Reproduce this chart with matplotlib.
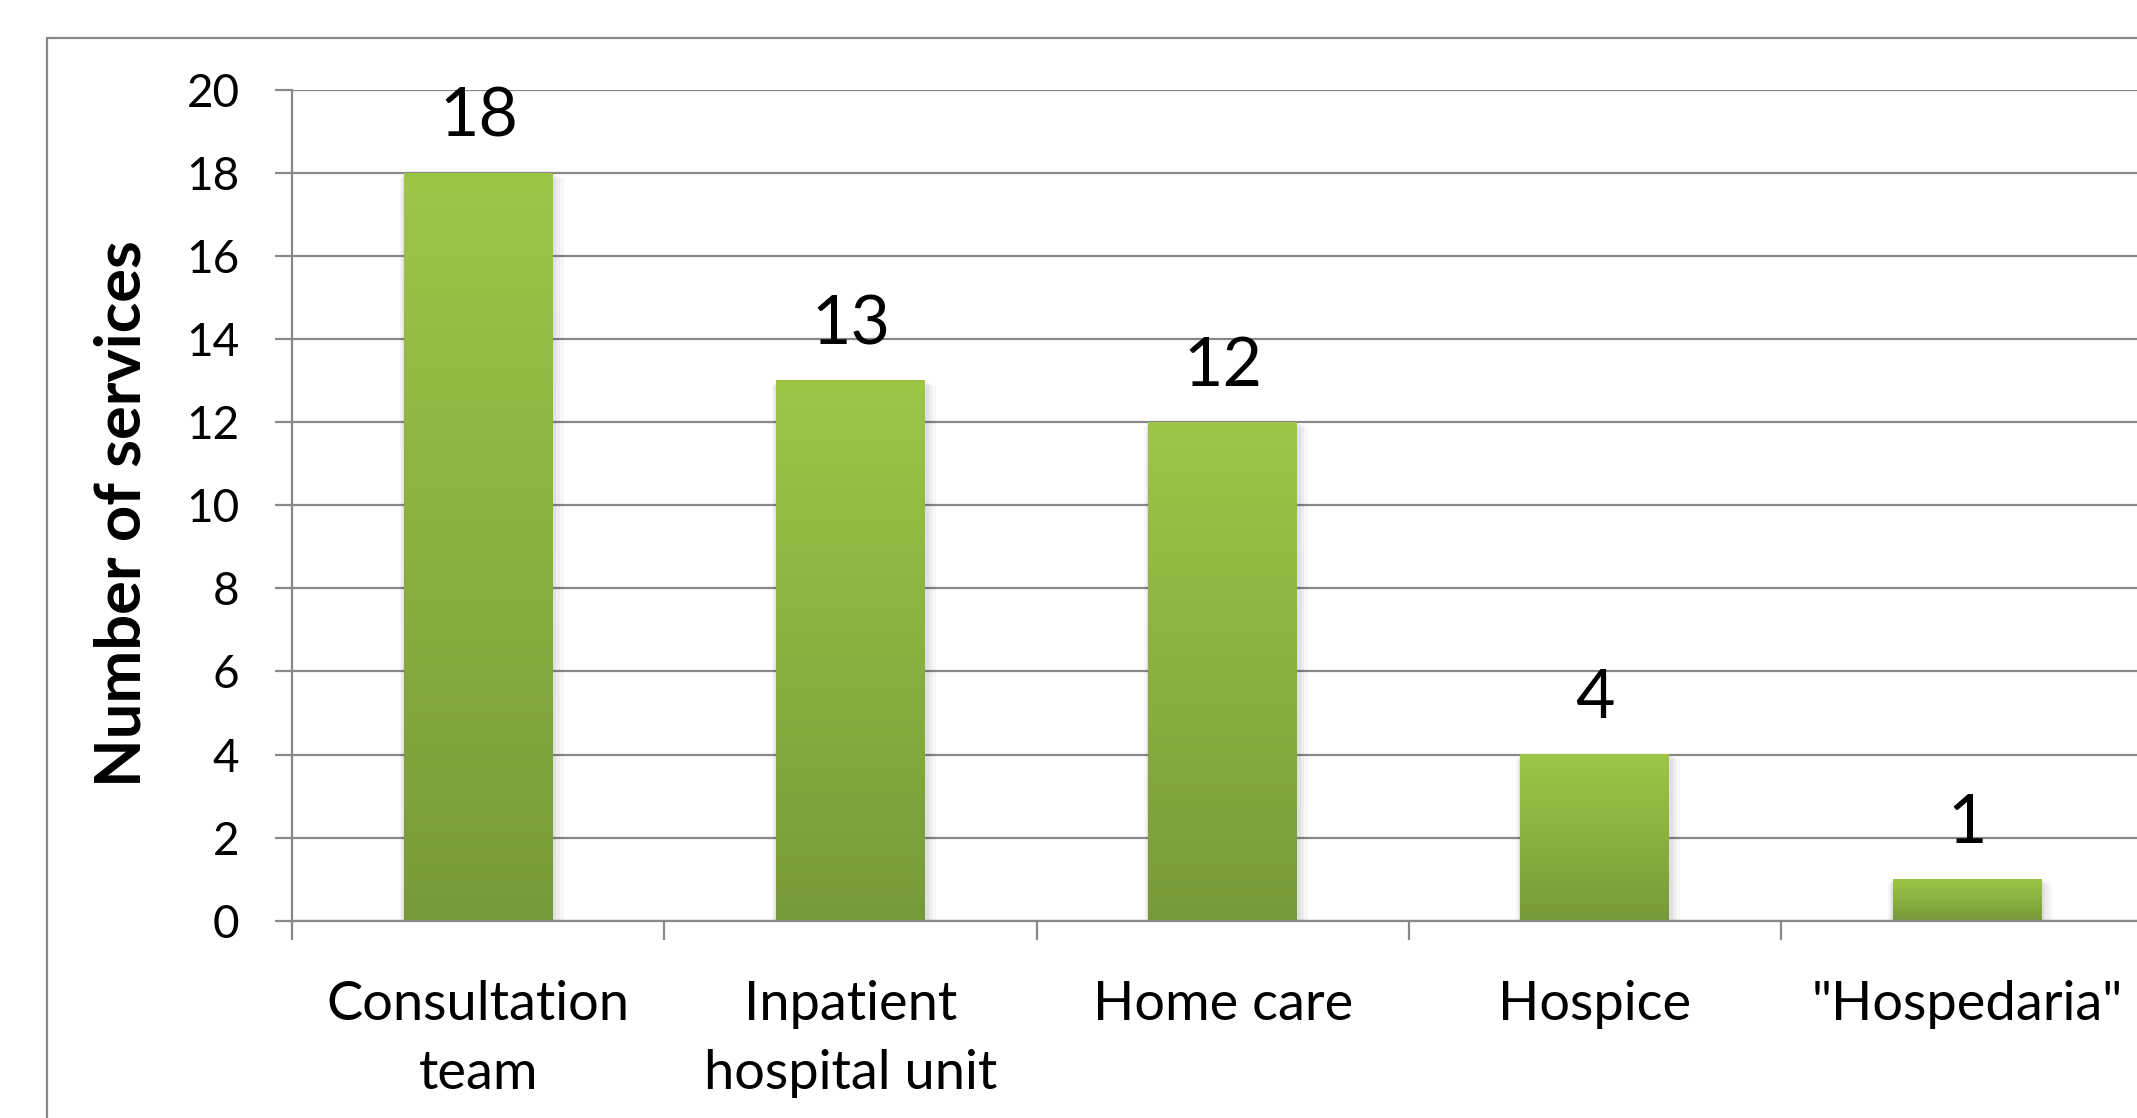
import numpy as np
import matplotlib
matplotlib.use("Agg")
import matplotlib.pyplot as plt
from matplotlib.colors import LinearSegmentedColormap
from matplotlib.patches import Rectangle

# Service types and counts
categories = ["Consultation\nteam", "Inpatient\nhospital unit", "Home care", "Hospice", "\"Hospedaria\""]
counts = [18, 13, 12, 4, 1]
yticks = [0, 2, 4, 6, 8, 10, 12, 14, 16, 18, 20]
ylabel = "Number of services"

plt.rcParams['font.family'] = ['Lato', 'DejaVu Sans']

W, H = 2137, 1118
fig = plt.figure(figsize=(W / 100, H / 100), dpi=100)
fig.patch.set_facecolor("white")

grey = "#888888"

# Outer chart frame (runs off the right and bottom edges)
fig.patches.append(Rectangle((46.7 / W, -0.1), 1.2, (1118 - 38) / H + 0.1,
                             transform=fig.transFigure, fill=False,
                             edgecolor=grey, linewidth=1.6, zorder=0))

ax = fig.add_axes([292.3 / W, 197.3 / H, (2153 - 292.3) / W, (920.7 - 89.7) / H])
ax.set_facecolor("none")

x = np.arange(len(categories))
bars = ax.bar(x, counts, width=0.40, color="none", edgecolor="none", zorder=3)

# Vertical gradient fill for each bar, plus a soft shadow
cmap = LinearSegmentedColormap.from_list("greens", ["#779A39", "#9DC647"])
grad = np.linspace(0, 1, 256).reshape(-1, 1)
for b in bars:
    x0, w, h = b.get_x(), b.get_width(), b.get_height()
    for k, a in enumerate([0.05, 0.04, 0.03]):
        dx = 0.006 * (k + 1)
        ax.add_patch(Rectangle((x0 - dx * 0.6, -0.06 * (k + 1)), w + dx * 2.2, h + 0.02 * (k + 1),
                               facecolor="black", edgecolor="none", alpha=a, zorder=2))
    ax.imshow(grad, extent=(x0, x0 + w, 0, h), origin="lower", cmap=cmap,
              aspect="auto", interpolation="bicubic", zorder=3)

ax.set_xlim(-0.5, 4.5)
ax.set_ylim(0, 20)
ax.set_yticks(yticks)
ax.set_yticklabels([str(t) for t in yticks], fontsize=33)
ax.yaxis.grid(True, color=grey, linewidth=1.6, zorder=1)
ax.set_axisbelow(True)

ax.set_xticks(x)
ax.set_xticklabels(categories, fontsize=39, linespacing=1.5, va="top")
ax.set_xticks(np.arange(-0.5, 5.0, 1.0), minor=True)
ax.tick_params(axis="x", which="major", length=0, pad=43)
ax.tick_params(axis="x", which="minor", length=14, width=1.6, color=grey, direction="out")
ax.tick_params(axis="y", length=12, width=1.6, color=grey, direction="out", pad=26)

for s in ["top", "right"]:
    ax.spines[s].set_visible(False)
for s in ["left", "bottom"]:
    ax.spines[s].set_color(grey)
    ax.spines[s].set_linewidth(1.6)
    ax.spines[s].set_zorder(4)

# Value labels above the bars
for b, v in zip(bars, counts):
    ax.annotate(str(v), (b.get_x() + b.get_width() / 2, b.get_height()),
                xytext=(0, 26), textcoords="offset points",
                ha="center", va="baseline", fontsize=49, zorder=5)

fig.text(123 / W, 1 - 514 / H, ylabel, rotation=90, ha="center", va="center",
         fontsize=45.5, fontweight="bold")

fig.savefig("out.png", dpi=100)
